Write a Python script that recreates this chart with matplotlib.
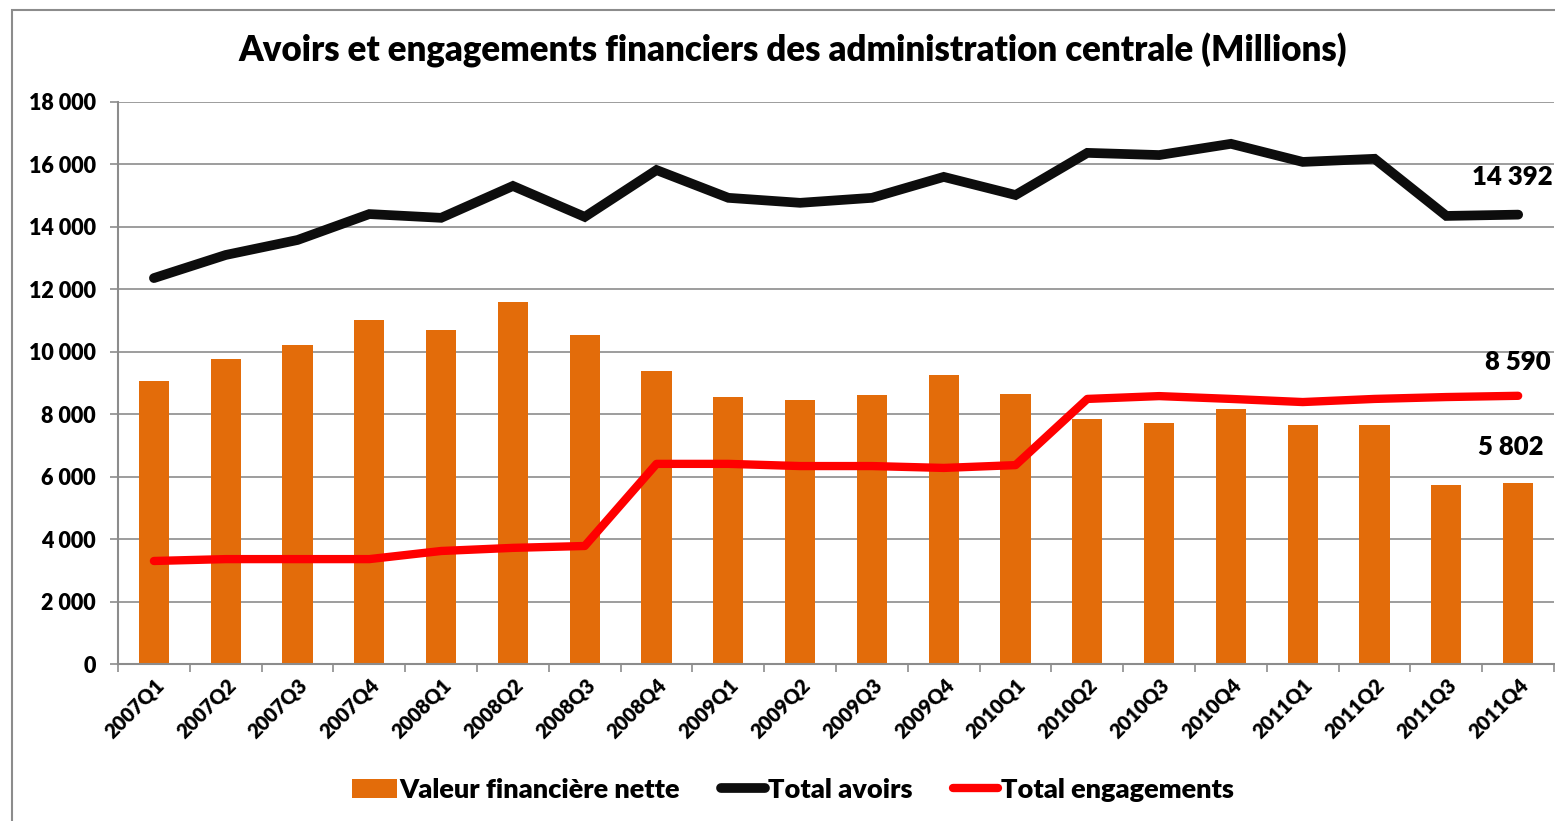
import matplotlib
matplotlib.use("Agg")
import matplotlib.pyplot as plt
from matplotlib.patches import Rectangle
from matplotlib.ticker import FuncFormatter, FixedLocator
import numpy as np

plt.rcParams['font.family'] = ['Lato', 'DejaVu Sans']
W = 'heavy'

quarters = ['2007Q1', '2007Q2', '2007Q3', '2007Q4',
            '2008Q1', '2008Q2', '2008Q3', '2008Q4',
            '2009Q1', '2009Q2', '2009Q3', '2009Q4',
            '2010Q1', '2010Q2', '2010Q3', '2010Q4',
            '2011Q1', '2011Q2', '2011Q3', '2011Q4']

valeur_nette = [9060, 9770, 10220, 11020, 10700, 11590, 10540, 9380,
                8550, 8460, 8620, 9260, 8650, 7850, 7720, 8170,
                7660, 7660, 5730, 5802]

total_avoirs = [12360, 13100, 13580, 14410, 14290, 15310, 14320, 15820,
                14930, 14770, 14930, 15600, 15020, 16370, 16300, 16660,
                16080, 16180, 14350, 14392]

total_engagements = [3300, 3360, 3360, 3360, 3620, 3720, 3780, 6410,
                     6410, 6340, 6340, 6280, 6370, 8490, 8580, 8490,
                     8390, 8490, 8550, 8590]

title = 'Avoirs et engagements financiers des administration centrale (Millions)'

fig = plt.figure(figsize=(15.55, 8.21), dpi=100)
ax = fig.add_axes([0.0759, 0.1912, 0.9235, 0.6846])

# outer frame like the spreadsheet chart area
fig.patches.append(Rectangle((12 / 1555, -0.02), 1.0, 0.02 + 1 - 10 / 821,
                             transform=fig.transFigure, fill=False,
                             edgecolor='#8c8c8c', linewidth=1.5))

x = np.arange(len(quarters))
ax.bar(x, valeur_nette, width=0.42, color='#E36C0A', zorder=2,
       label='Valeur financière nette')
ax.plot(x, total_avoirs, color='#0d0d0d', linewidth=7, solid_capstyle='round',
        solid_joinstyle='miter', zorder=3, label='Total avoirs')
ax.plot(x, total_engagements, color='#ff0000', linewidth=6, solid_capstyle='round',
        solid_joinstyle='round', zorder=3, label='Total engagements')

ax.set_xlim(-0.5, len(quarters) - 0.5)
ax.set_ylim(0, 18000)
ax.set_yticks(np.arange(0, 18001, 2000))
ax.yaxis.set_major_formatter(FuncFormatter(lambda v, p: f"{v:,.0f}".replace(",", " ")))
ax.grid(axis='y', color='#8c8c8c', linewidth=1.2, zorder=0)
ax.set_axisbelow(True)

ax.set_xticks(x)
ax.set_xticklabels(quarters, rotation=45, ha='right', rotation_mode='anchor',
                   fontsize=14.5, fontweight=W)
ax.xaxis.set_minor_locator(FixedLocator(np.arange(-0.5, len(quarters), 1)))
ax.tick_params(axis='x', which='major', length=0, pad=8)
ax.tick_params(axis='x', which='minor', length=6, color='#8c8c8c', width=1.2)
ax.tick_params(axis='y', length=6, color='#8c8c8c', width=1.2, labelsize=15.5, pad=10)
for lab in ax.get_yticklabels():
    lab.set_fontweight(W)

for s in ['top', 'right']:
    ax.spines[s].set_visible(False)
for s in ['left', 'bottom']:
    ax.spines[s].set_color('#8c8c8c')
    ax.spines[s].set_linewidth(1.5)

# end-point labels
last = len(quarters) - 1
ax.annotate(f"{total_avoirs[-1]:,}".replace(",", " "), (last, total_avoirs[-1]),
            xytext=(-4, 27), textcoords='offset points', ha='center', va='center',
            fontsize=18.5, fontweight=W)
ax.annotate(f"{total_engagements[-1]:,}".replace(",", " "), (last, total_engagements[-1]),
            xytext=(0, 24), textcoords='offset points', ha='center', va='center',
            fontsize=18.5, fontweight=W)
ax.annotate(f"{valeur_nette[-1]:,}".replace(",", " "), (last, valeur_nette[-1]),
            xytext=(-5, 26), textcoords='offset points', ha='center', va='center',
            fontsize=18.5, fontweight=W)

fig.text(0.51, 0.938, title, ha='center', va='center', fontsize=25, fontweight=W)

handles, labels = ax.get_legend_handles_labels()
order = [2, 0, 1]
leg = fig.legend([handles[i] for i in order], [labels[i] for i in order],
                 loc='center', bbox_to_anchor=(0.51, 0.038), ncol=3, frameon=False,
                 fontsize=19.5, handlelength=1.65, handletextpad=0.1, columnspacing=1.5)
for t in leg.get_texts():
    t.set_fontweight(W)

fig.savefig('out.png', dpi=100)
